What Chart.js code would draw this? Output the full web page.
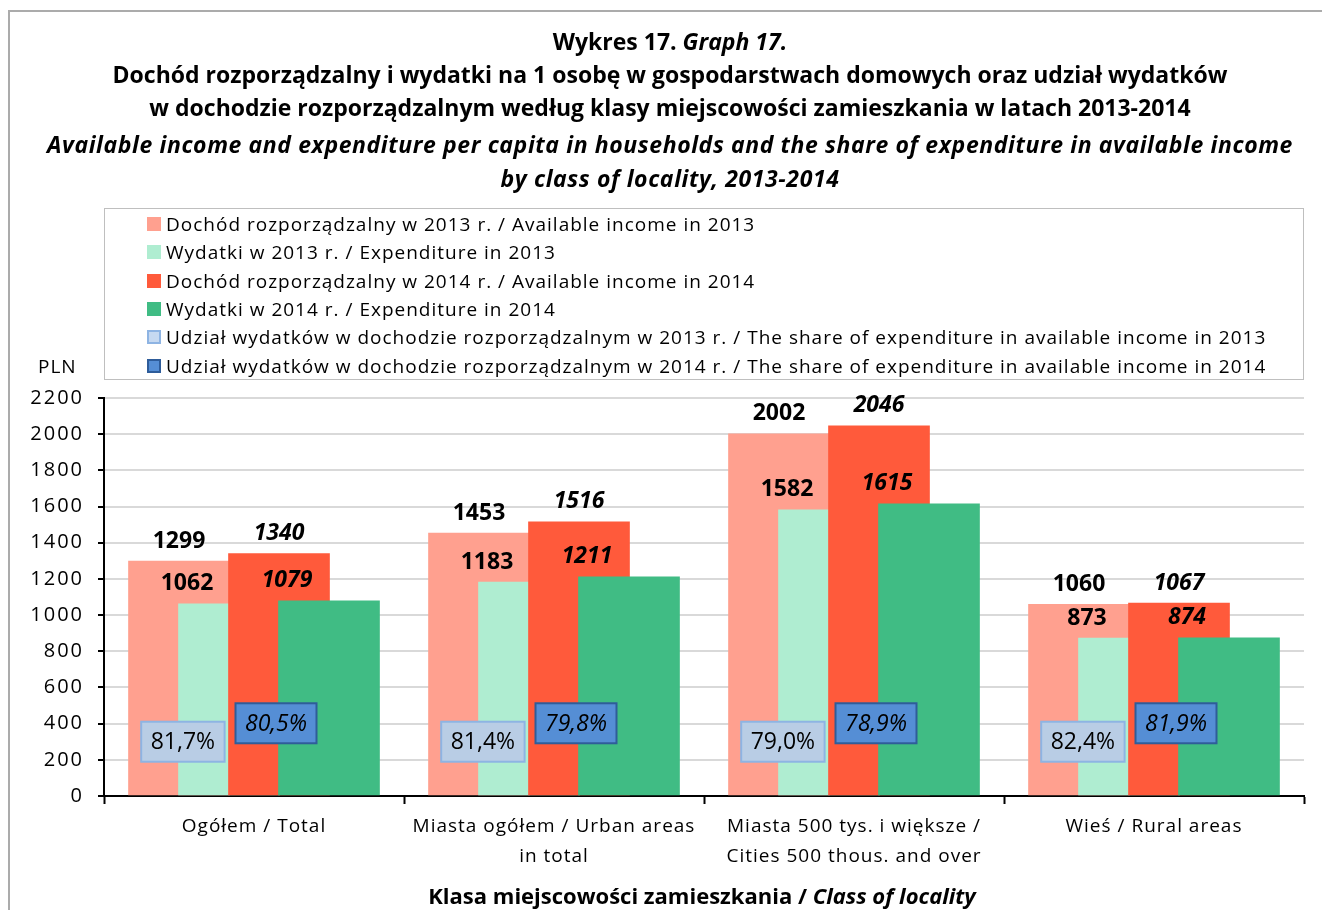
<!DOCTYPE html>
<html>
<head>
<meta charset="utf-8">
<script src="https://cdn.jsdelivr.net/npm/chart.js@4"></script>
<style>
  html, body { margin: 0; padding: 0; background: #fff; }
  body { width: 1322px; height: 910px; position: relative; overflow: hidden; font-family: "Open Sans", sans-serif; color: #000; }
  #frame { position: absolute; left: 8px; top: 10px; width: 1400px; height: 1000px; border-left: 2px solid #ABABAB; border-top: 2px solid #ABABAB; }
  #chart { position: absolute; left: 0; top: 0; }
  .title { position: absolute; left: 0; width: 1340px; text-align: center; font-weight: bold; font-size: 23px; line-height: 26px; white-space: nowrap; }
  .title.it { letter-spacing: 0.6px; }
  #legend { position: absolute; left: 104px; top: 208px; width: 1200px; height: 172px; border: 1px solid #BFBFBF; box-sizing: border-box; }
  .li { position: absolute; left: 42px; height: 28px; font-size: 19px; line-height: 28px; white-space: nowrap; letter-spacing: 1px; }
  .li .m { position: absolute; left: 0; top: 7px; width: 14px; height: 14px; box-sizing: border-box; }
  .li span.t { position: absolute; left: 19px; top: 0; }
  #pln { position: absolute; left: 38px; top: 352px; font-size: 19px; line-height: 28px; letter-spacing: 1px; }
  #xtitle { position: absolute; left: 0; width: 1404px; top: 881px; text-align: center; font-size: 22px; font-weight: bold; line-height: 28px; white-space: nowrap; }
</style>
</head>
<body>
<div id="frame"></div>
<canvas id="chart" width="1322" height="910"></canvas>
<div class="title" style="top:28px">Wykres 17. <i>Graph 17.</i></div>
<div class="title" style="top:61px">Dochód rozporządzalny i wydatki na 1 osobę w gospodarstwach domowych oraz udział wydatków</div>
<div class="title" style="top:94px">w dochodzie rozporządzalnym według klasy miejscowości zamieszkania w latach 2013-2014</div>
<div class="title it" style="top:131px"><i>Available income and expenditure per capita in households and the share of expenditure in available income</i></div>
<div class="title it" style="top:165px"><i>by class of locality, 2013-2014</i></div>
<div id="legend"></div>
<div id="pln">PLN</div>
<div id="xtitle">Klasa miejscowości zamieszkania / <i>Class of locality</i></div>
<script>
// ---- data ----
const categories = [
  ["Ogółem / Total"],
  ["Miasta ogółem / Urban areas", "in total"],
  ["Miasta 500 tys. i większe /", "Cities 500 thous. and over"],
  ["Wieś / Rural areas"]
];
const income2013 = [1299, 1453, 2002, 1060];
const expenditure2013 = [1062, 1183, 1582, 873];
const income2014 = [1340, 1516, 2046, 1067];
const expenditure2014 = [1079, 1211, 1615, 874];
const share2013 = [81.7, 81.4, 79.0, 82.4];
const share2014 = [80.5, 79.8, 78.9, 81.9];
const yMin = 0, yMax = 2200, yStep = 200;
const seriesNames = [
  "Dochód rozporządzalny w 2013 r. / Available income in 2013",
  "Wydatki w 2013 r. / Expenditure in 2013",
  "Dochód rozporządzalny w 2014 r. / Available income in 2014",
  "Wydatki w 2014 r. / Expenditure in 2014",
  "Udział wydatków w dochodzie rozporządzalnym w 2013 r. / The share of expenditure in available income in 2013",
  "Udział wydatków w dochodzie rozporządzalnym w 2014 r. / The share of expenditure in available income in 2014"
];

// ---- styles ----
const FONT = "Open Sans";
const colors = ["#FFA08F", "#AFEDD1", "#FF5A3B", "#40BC84"];
const shareFill = ["#C6D9F1", "#558ED5"];
const shareBorder = ["#8EB4E3", "#2E5C9A"];
const boxFill = ["#B9CDE5", "#558ED5"];
const boxBorder = ["#8EB4E3", "#2F5D99"];

// legend
const legend = document.getElementById('legend');
seriesNames.forEach((n, i) => {
  const d = document.createElement('div');
  d.className = 'li';
  d.style.top = (1 + i * 28.3) + 'px';
  const m = document.createElement('div');
  m.className = 'm';
  if (i < 4) { m.style.background = colors[i]; }
  else { m.style.background = shareFill[i - 4]; m.style.border = '2px solid ' + shareBorder[i - 4]; }
  const t = document.createElement('span');
  t.className = 't';
  t.textContent = n;
  d.appendChild(m); d.appendChild(t);
  legend.appendChild(d);
});

const offsets = [-0.25, -1 / 12, 1 / 12, 0.25];
const shareOffsets = [-0.237, 1 / 12 - 0.01];
const pts = (arr, off) => arr.map((v, i) => ({ x: i + off, y: v }));

const barSets = [income2013, expenditure2013, income2014, expenditure2014].map((arr, k) => ({
  label: seriesNames[k],
  data: pts(arr, offsets[k]),
  backgroundColor: colors[k],
  borderWidth: 0,
  xAxisID: 'xv', yAxisID: 'y',
  order: 4 - k,
  labelStyle: { italic: k >= 2, dx: (k % 2 === 1) ? -42 : 0 }
}));
const shareSets = [share2013, share2014].map((arr, k) => ({
  label: seriesNames[4 + k],
  data: pts(arr, shareOffsets[k]),
  backgroundColor: 'rgba(0,0,0,0)',
  borderWidth: 0,
  barThickness: 2,
  xAxisID: 'xv', yAxisID: 'y2',
  order: 0,
  shareBox: { k: k, level: k === 0 ? 300 : 402 }
}));

const labelPlugin = {
  id: 'labels',
  afterDatasetsDraw(chart) {
    const ctx = chart.ctx;
    const yScale = chart.scales.y;
    chart.data.datasets.forEach((ds, di) => {
      const meta = chart.getDatasetMeta(di);
      meta.data.forEach((el, i) => {
        const v = ds.data[i].y;
        ctx.save();
        ctx.letterSpacing = '0px';
        if (ds.labelStyle) {
          ctx.font = (ds.labelStyle.italic ? 'italic ' : '') + 'bold 23px "' + FONT + '"';
          ctx.fillStyle = '#000';
          ctx.textAlign = 'center';
          ctx.textBaseline = 'middle';
          ctx.fillText(String(v), el.x + ds.labelStyle.dx, el.y - 20);
        } else if (ds.shareBox) {
          const k = ds.shareBox.k;
          const txt = v.toFixed(1).replace('.', ',') + '%';
          ctx.font = (k === 1 ? 'italic ' : '') + '23px "' + FONT + '"';
          const w = ctx.measureText(txt).width + 19;
          const h = 40;
          const cy = yScale.getPixelForValue(ds.shareBox.level);
          ctx.fillStyle = boxFill[k];
          ctx.fillRect(el.x - w / 2, cy - h / 2, w, h);
          ctx.strokeStyle = boxBorder[k];
          ctx.lineWidth = 2;
          ctx.strokeRect(el.x - w / 2, cy - h / 2, w, h);
          ctx.fillStyle = '#000';
          ctx.textAlign = 'center';
          ctx.textBaseline = 'middle';
          ctx.fillText(txt, el.x, cy + 1);
        }
        ctx.restore();
      });
    });
  }
};

function spaced(scale, spacing) {
  if (scale._spacedPatch) return;
  const orig = scale.drawLabels.bind(scale);
  scale.drawLabels = function (area) {
    const c = scale.ctx;
    const prev = c.letterSpacing;
    c.letterSpacing = spacing;
    orig(area);
    c.letterSpacing = prev || '0px';
  };
  scale._spacedPatch = true;
}

new Chart(document.getElementById('chart'), {
  type: 'bar',
  data: { datasets: [...barSets, ...shareSets] },
  options: {
    responsive: false,
    animation: false,
    events: [],
    barThickness: 101,
    grouped: false,
    layout: { padding: { top: 398, left: 0, right: 18, bottom: 0 } },
    plugins: { legend: { display: false }, tooltip: { enabled: false }, title: { display: false } },
    scales: {
      xv: {
        type: 'linear', display: false, min: -0.5, max: 3.5, offset: false, grid: { offset: false }
      },
      x: {
        type: 'category', labels: categories, offset: true, position: 'bottom',
        grid: { display: true, drawOnChartArea: false, offset: true, tickLength: 8, tickColor: '#000', tickWidth: 2 },
        border: { display: true, color: '#000', width: 2 },
        ticks: { color: '#000', font: { family: FONT, size: 19, lineHeight: 1.55 }, padding: 8, maxRotation: 0, autoSkip: false },
        afterFit: s => { s.height = 114; spaced(s, '1px'); }
      },
      y: {
        type: 'linear', min: yMin, max: yMax, position: 'left',
        ticks: { stepSize: yStep, color: '#000', font: { family: FONT, size: 20 }, padding: 14, callback: v => String(v) },
        grid: { color: '#D9D9D9', lineWidth: 2, tickColor: '#000', tickLength: 6, tickWidth: 2 },
        border: { display: true, color: '#000', width: 2 },
        afterFit: s => { s.width = 104; spaced(s, '2px'); }
      },
      y2: { type: 'linear', display: false, min: 0, max: 100000, position: 'right' }
    }
  },
  plugins: [labelPlugin]
});
</script>
</body>
</html>
